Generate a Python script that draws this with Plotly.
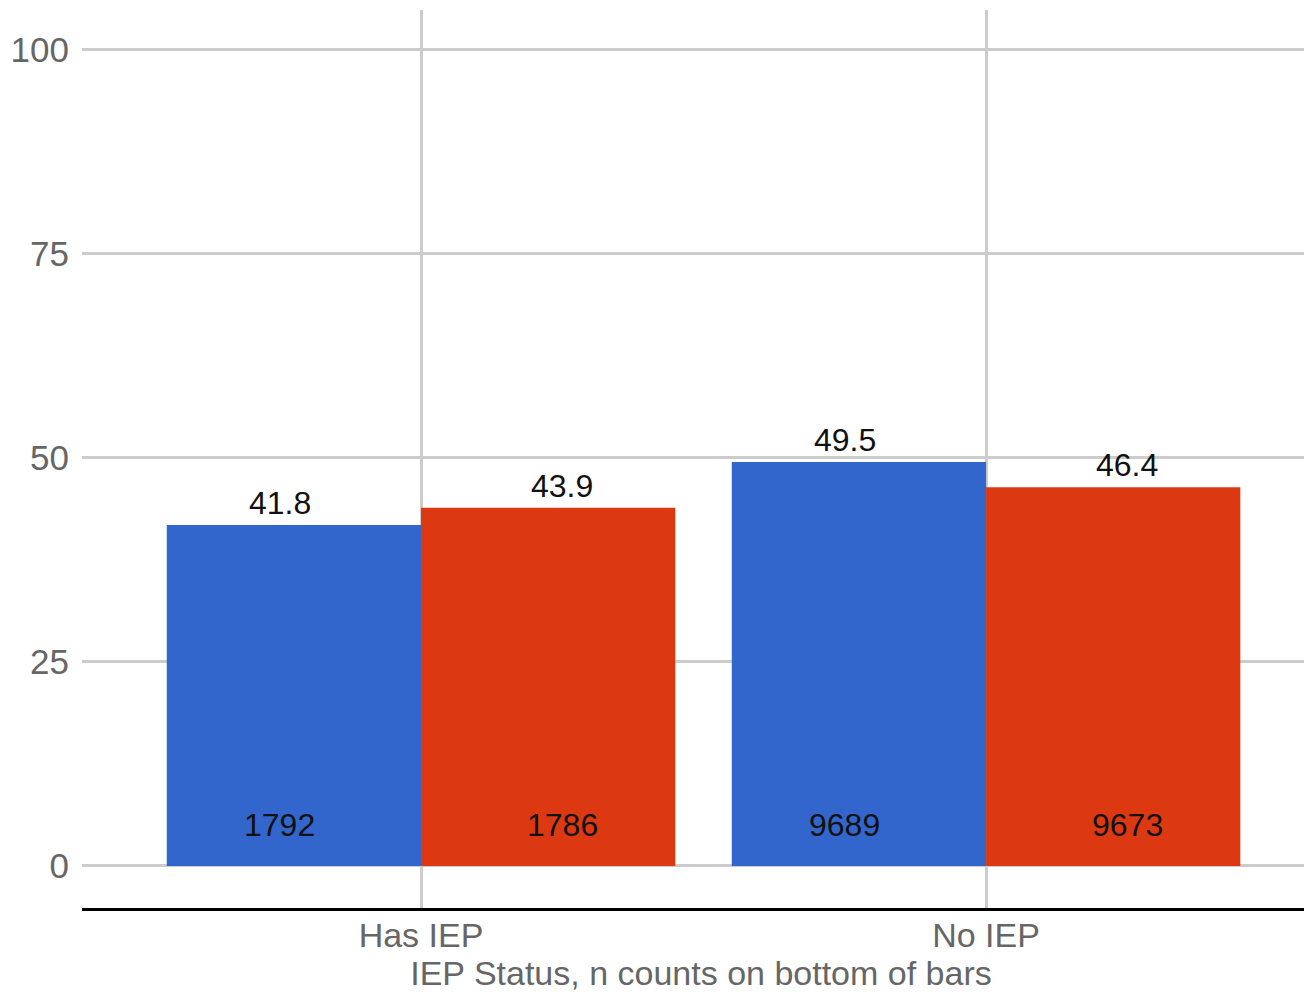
import plotly.graph_objects as go

categories = ["Has IEP", "No IEP"]
series_names = ["Group A", "Group B"]
values_a = [41.8, 49.5]
values_b = [43.9, 46.4]
counts_a = [1792, 9689]
counts_b = [1786, 9673]
y_ticks = [0, 25, 50, 75, 100]

colors = ["#3366CC", "#DC3912"]
FONT = "Liberation Sans, Arial, sans-serif"

fig = go.Figure()
for name, vals, col in [(series_names[0], values_a, colors[0]),
                        (series_names[1], values_b, colors[1])]:
    fig.add_trace(go.Bar(
        x=categories, y=vals, name=name, marker_color=col, marker_line_width=0,
        showlegend=False,
    ))

# value labels above bars and count labels at bottom of bars
offsets = [-0.25, 0.25]
annotations = []
for off, vals, cnts in zip(offsets, [values_a, values_b], [counts_a, counts_b]):
    for i, (v, c) in enumerate(zip(vals, cnts)):
        annotations.append(dict(
            x=i + off, y=v, xref="x2", yref="y", text=f"{v:.1f}", showarrow=False,
            yshift=22, font=dict(size=32, color="#111111", family=FONT),
        ))
        annotations.append(dict(
            x=i + off, y=0, xref="x2", yref="y", text=str(c), showarrow=False,
            yshift=41, font=dict(size=32, color="#111111", family=FONT),
        ))

X_RANGE = [-0.6, 1.591]

fig.update_layout(
    width=1312, height=985,
    margin=dict(l=74, r=0, t=2, b=85),
    paper_bgcolor="white", plot_bgcolor="white",
    bargap=0.1, bargroupgap=0, barmode="group",
    font=dict(family=FONT, color="#666666"),
    annotations=annotations,
    xaxis=dict(
        type="category", range=X_RANGE,
        showgrid=True, gridcolor="#CCCCCC", gridwidth=3,
        showline=True, linecolor="#000000", linewidth=3,
        ticks="", ticklabelstandoff=-5,
        tickfont=dict(size=34, color="#666666", family=FONT),
        title=dict(text="IEP Status, n counts on bottom of bars",
                   font=dict(size=34, color="#666666", family=FONT), standoff=6),
    ),
    xaxis2=dict(overlaying="x", range=X_RANGE, visible=False),
    yaxis=dict(
        range=[-5.15, 104.9], tickvals=y_ticks,
        showgrid=True, gridcolor="#CCCCCC", gridwidth=3,
        zeroline=False, showline=False, ticks="", ticklabelstandoff=12,
        tickfont=dict(size=35, color="#666666", family=FONT),
    ),
)

fig.write_html("out.html")
